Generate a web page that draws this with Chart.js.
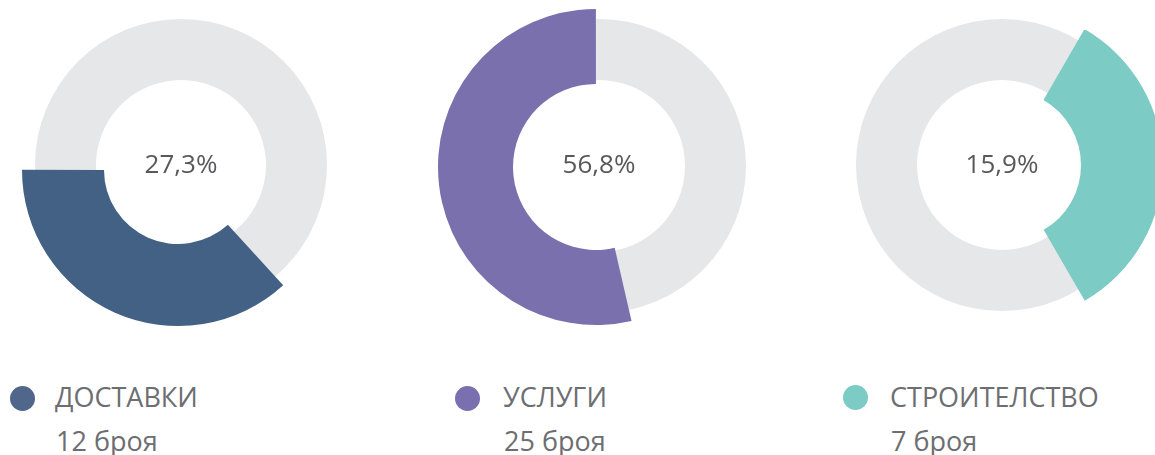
<!DOCTYPE html>
<html>
<head>
<meta charset="utf-8">
<script src="https://cdn.jsdelivr.net/npm/chart.js@4/dist/chart.umd.min.js"></script>
<style>
  html, body { margin:0; padding:0; width:1155px; height:455px; overflow:hidden; background:#fff; }
  body { position:relative; font-family:"Open Sans", "Noto Sans", sans-serif; }
  canvas { position:absolute; }
  .center { position:absolute; width:200px; text-align:center; font-size:26px; line-height:30px; color:#58595b; }
  .dot { position:absolute; width:25px; height:25px; border-radius:50%; }
  .lab { position:absolute; font-size:27px; line-height:30px; color:#6d6e71; white-space:nowrap; }
</style>
</head>
<body>
<script>
// ---- data ----
const categories    = ['ДОСТАВКИ', 'УСЛУГИ', 'СТРОИТЕЛСТВО'];
const counts        = [12, 25, 7];
const percentLabels = ['27,3%', '56,8%', '15,9%'];
const countLabels   = ['12 броя', '25 броя', '7 броя'];
// drawn arc of the coloured segment (share of full circle, %) and its start angle (deg, clockwise from top)
const arcShare      = [36.8, 53.6, 33.3];
const arcStart      = [137.6, 167, 30];

// ---- styling / layout ----
const colors    = ['#436185', '#7a70ae', '#7ccbc4'];
const dotColors = ['#50668a', '#7a70b0', '#7ccbc4'];
const greyColor = '#e6e7e9';
const ringCenters   = [[181,165],[599,166],[1002,165]];
const ringRadius    = [[146,85],[147,86],[146,85]];
const colorCenters  = [[178,170],[596,167],[1006,165]];
const colorRadius   = [[156,74],[158,83],[157,75]];
const legendPos     = [[22,398,55],[467,398,503],[855,397,890]];
const SIZE = 340;

function makeCanvas(cx, cy) {
  const c = document.createElement('canvas');
  c.width = SIZE; c.height = SIZE;
  c.style.left = (cx - SIZE/2) + 'px';
  c.style.top = (cy - SIZE/2) + 'px';
  c.style.width = SIZE + 'px'; c.style.height = SIZE + 'px';
  document.body.appendChild(c);
  return c;
}
const baseOpts = {
  responsive:false, animation:false, events:[],
  layout:{ padding:0 },
  plugins:{ legend:{display:false}, tooltip:{enabled:false} }
};
const pct = (inner, outer) => (inner / outer * 100) + '%';

categories.forEach((cat, i) => {
  // grey background ring
  const g = makeCanvas(ringCenters[i][0], ringCenters[i][1]);
  new Chart(g, {
    type:'doughnut',
    data:{ labels:[cat], datasets:[{ data:[100], backgroundColor:[greyColor], borderWidth:0 }] },
    options:Object.assign({}, baseOpts, { radius:ringRadius[i][0], cutout:pct(ringRadius[i][1], ringRadius[i][0]) })
  });
  // coloured segment
  const c = makeCanvas(colorCenters[i][0], colorCenters[i][1]);
  new Chart(c, {
    type:'doughnut',
    data:{ labels:[cat, ''], datasets:[{
      data:[arcShare[i], 100 - arcShare[i]],
      backgroundColor:[colors[i], 'rgba(0,0,0,0)'],
      borderWidth:0
    }]},
    options:Object.assign({}, baseOpts, {
      radius:colorRadius[i][0], cutout:pct(colorRadius[i][1], colorRadius[i][0]), rotation:arcStart[i]
    })
  });
  // centre text
  const t = document.createElement('div');
  t.className = 'center';
  t.textContent = percentLabels[i];
  t.style.left = (ringCenters[i][0] - 100) + 'px';
  t.style.top = '148px';
  document.body.appendChild(t);
  // legend
  const [dx, dy, tx] = legendPos[i];
  const d = document.createElement('div');
  d.className = 'dot';
  d.style.left = (dx - 12.5) + 'px'; d.style.top = (dy - 12.5) + 'px';
  d.style.background = dotColors[i];
  document.body.appendChild(d);
  const l1 = document.createElement('div');
  l1.className = 'lab'; l1.textContent = cat;
  l1.style.left = tx + 'px'; l1.style.top = '382px';
  document.body.appendChild(l1);
  const l2 = document.createElement('div');
  l2.className = 'lab'; l2.textContent = countLabels[i];
  l2.style.left = (tx + 1) + 'px'; l2.style.top = '426px';
  document.body.appendChild(l2);
});
</script>
</body>
</html>
